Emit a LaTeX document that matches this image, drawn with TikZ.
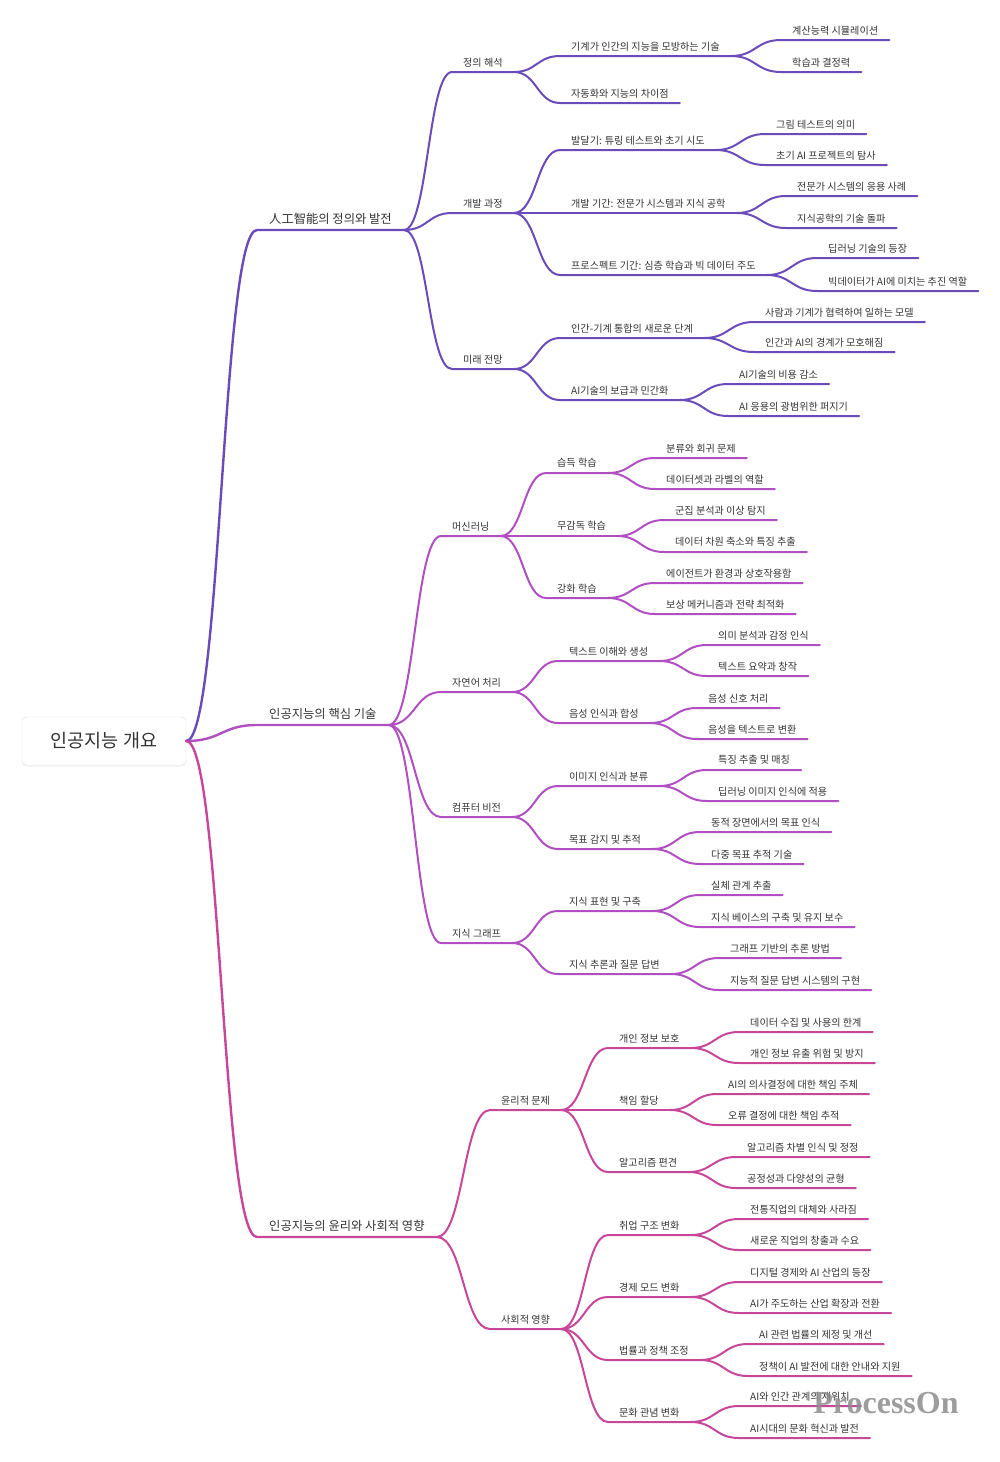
\documentclass[tikz,border=0pt]{standalone}
\usepackage{fontspec}
\setmainfont{Noto Sans CJK KR}
\newfontfamily\markfont{Liberation Serif}
\usetikzlibrary{calc,shadows}

\definecolor{ink}{HTML}{333333}
\definecolor{violetA}{HTML}{6A4BBA}
\definecolor{violetB}{HTML}{B04EC2}
\definecolor{violetC}{HTML}{C8469A}

\begin{document}
\begin{tikzpicture}[x=1pt,y=-1pt]
            \tikzset{rootbox/.style = {draw=black!12, fill=white, rounded corners=4pt, minimum width=164pt, minimum height=48pt, text=ink, font=\fontsize{18.5}{22}\selectfont, drop shadow={opacity=0.10, shadow xshift=0pt, shadow yshift=-1.5pt}}}
            \tikzset{topic/.style = {anchor=south west, inner xsep=11pt, inner ysep=5pt, text=ink, font=\fontsize{10.1}{12}\selectfont}}
            \tikzset{major/.style = {topic, inner xsep=12pt, font=\fontsize{12.3}{14}\selectfont}}
            \tikzset{stamp/.style = {text=black!45, text opacity=0.85, font=\markfont\bfseries\fontsize{32}{35}\selectfont}}
            \tikzset{link/.style = {to path={let \p1=(\tikztostart), \p2=(\tikztotarget) in .. controls ({(\x1+\x2)/2},\y1) and ({(\x1+\x2)/2},\y2) .. (\tikztotarget)}}}
            \tikzset{lineA/.style = {draw=violetA, line width=2pt, line cap=round}}
            \tikzset{lineB/.style = {draw=violetB, line width=2pt, line cap=round}}
            \tikzset{lineC/.style = {draw=violetC, line width=2pt, line cap=round}}
            \useasboundingbox (0,0) rectangle (1000,1462);
            % vertices
            \node[rootbox] (root) at (104,741) {인공지능 개요};
            \node[major] (A) at (257,230) {人工智能의 정의와 발전};
            \node[major] (B) at (257,725) {인공지능의 핵심 기술};
            \node[major] (C) at (257,1237) {인공지능의 윤리와 사회적 영향};
            % definition and development
            \node[topic] (A1) at (452,72) {정의 해석};
            \node[topic] (A11) at (560,56) {기계가 인간의 지능을 모방하는 기술};
            \node[topic] (A111) at (781,40) {계산능력 시뮬레이션};
            \node[topic] (A112) at (781,72) {학습과 결정력};
            \node[topic] (A12) at (560,103) {자동화와 지능의 차이점};
            \node[topic] (A2) at (452,213) {개발 과정};
            \node[topic] (A21) at (560,150) {발달기: 튜링 테스트와 초기 시도};
            \node[topic] (A211) at (765,134) {그림 테스트의 의미};
            \node[topic] (A212) at (765,165) {초기 AI 프로젝트의 탐사};
            \node[topic] (A22) at (560,213) {개발 기간: 전문가 시스템과 지식 공학};
            \node[topic] (A221) at (786,196) {전문가 시스템의 응용 사례};
            \node[topic] (A222) at (786,228) {지식공학의 기술 돌파};
            \node[topic] (A23) at (560,275) {프로스펙트 기간: 심층 학습과 빅 데이터 주도};
            \node[topic] (A231) at (817,258) {딥러닝 기술의 등장};
            \node[topic] (A232) at (817,291) {빅데이터가 AI에 미치는 추진 역할};
            \node[topic] (A3) at (452,369) {미래 전망};
            \node[topic] (A31) at (560,338) {인간-기계 통합의 새로운 단계};
            \node[topic] (A311) at (754,322) {사람과 기계가 협력하여 일하는 모델};
            \node[topic] (A312) at (754,352) {인간과 AI의 경계가 모호해짐};
            \node[topic] (A32) at (560,400) {AI기술의 보급과 민간화};
            \node[topic] (A321) at (728,384) {AI기술의 비용 감소};
            \node[topic] (A322) at (728,416) {AI 응용의 광범위한 퍼지기};
            % core technologies
            \node[topic] (B1) at (441,536) {머신러닝};
            \node[topic] (B11) at (546,473) {습득 학습};
            \node[topic] (B111) at (655,458) {분류와 회귀 문제};
            \node[topic] (B112) at (655,489) {데이터셋과 라벨의 역할};
            \node[topic] (B12) at (546,536) {무감독 학습};
            \node[topic] (B121) at (664,520) {군집 분석과 이상 탐지};
            \node[topic] (B122) at (664,552) {데이터 차원 축소와 특징 추출};
            \node[topic] (B13) at (546,598) {강화 학습};
            \node[topic] (B131) at (655,583) {에이전트가 환경과 상호작용함};
            \node[topic] (B132) at (655,614) {보상 메커니즘과 전략 최적화};
            \node[topic] (B2) at (441,692) {자연어 처리};
            \node[topic] (B21) at (558,661) {텍스트 이해와 생성};
            \node[topic] (B211) at (707,645) {의미 분석과 감정 인식};
            \node[topic] (B212) at (707,676) {텍스트 요약과 창작};
            \node[topic] (B22) at (558,723) {음성 인식과 합성};
            \node[topic] (B221) at (697,708) {음성 신호 처리};
            \node[topic] (B222) at (697,739) {음성을 텍스트로 변환};
            \node[topic] (B3) at (441,817) {컴퓨터 비전};
            \node[topic] (B31) at (558,786) {이미지 인식과 분류};
            \node[topic] (B311) at (707,770) {특징 추출 및 매칭};
            \node[topic] (B312) at (707,801) {딥러닝 이미지 인식에 적용};
            \node[topic] (B32) at (558,849) {목표 감지 및 추적};
            \node[topic] (B321) at (700,832) {동적 장면에서의 목표 인식};
            \node[topic] (B322) at (700,864) {다중 목표 추적 기술};
            \node[topic] (B4) at (441,943) {지식 그래프};
            \node[topic] (B41) at (558,911) {지식 표현 및 구축};
            \node[topic] (B411) at (700,895) {실체 관계 추출};
            \node[topic] (B412) at (700,927) {지식 베이스의 구축 및 유지 보수};
            \node[topic] (B42) at (558,974) {지식 추론과 질문 답변};
            \node[topic] (B421) at (719,958) {그래프 기반의 추론 방법};
            \node[topic] (B422) at (719,990) {지능적 질문 답변 시스템의 구현};
            % ethics and society
            \node[topic] (C1) at (490,1110) {윤리적 문제};
            \node[topic] (C11) at (608,1048) {개인 정보 보호};
            \node[topic] (C111) at (739,1032) {데이터 수집 및 사용의 한계};
            \node[topic] (C112) at (739,1063) {개인 정보 유출 위험 및 방지};
            \node[topic] (C12) at (608,1110) {책임 할당};
            \node[topic] (C121) at (717,1094) {AI의 의사결정에 대한 책임 주체};
            \node[topic] (C122) at (717,1125) {오류 결정에 대한 책임 추적};
            \node[topic] (C13) at (608,1172) {알고리즘 편견};
            \node[topic] (C131) at (736,1157) {알고리즘 차별 인식 및 정정};
            \node[topic] (C132) at (736,1188) {공정성과 다양성의 균형};
            \node[topic] (C2) at (490,1329) {사회적 영향};
            \node[topic] (C21) at (608,1235) {취업 구조 변화};
            \node[topic] (C211) at (739,1219) {전통직업의 대체와 사라짐};
            \node[topic] (C212) at (739,1250) {새로운 직업의 창출과 수요};
            \node[topic] (C22) at (608,1297) {경제 모드 변화};
            \node[topic] (C221) at (739,1282) {디지털 경제와 AI 산업의 등장};
            \node[topic] (C222) at (739,1313) {AI가 주도하는 산업 확장과 전환};
            \node[topic] (C23) at (608,1360) {법률과 정책 조정};
            \node[topic] (C231) at (748,1344) {AI 관련 법률의 제정 및 개선};
            \node[topic] (C232) at (748,1376) {정책이 AI 발전에 대한 안내와 지원};
            \node[topic] (C24) at (608,1422) {문화 관념 변화};
            \node[topic] (C241) at (739,1406) {AI와 인간 관계의 재위치};
            \node[topic] (C242) at (739,1438) {AI시대의 문화 혁신과 발전};
            %edges
            \draw[lineA, line width=2.4pt] (root.east) to[link] (A.south west) -- (A.south east);
            \draw[lineB, line width=2.4pt] (root.east) to[link] (B.south west) -- (B.south east);
            \draw[lineC, line width=2.4pt] (root.east) to[link] (C.south west) -- (C.south east);
            \draw[lineA] (A.south east) to[link] (A1.south west) -- (A1.south east);
            \draw[lineA] (A1.south east) to[link] (A11.south west) -- (A11.south east);
            \draw[lineA] (A11.south east) to[link] (A111.south west) -- (A111.south east);
            \draw[lineA] (A11.south east) to[link] (A112.south west) -- (A112.south east);
            \draw[lineA] (A1.south east) to[link] (A12.south west) -- (A12.south east);
            \draw[lineA] (A.south east) to[link] (A2.south west) -- (A2.south east);
            \draw[lineA] (A2.south east) to[link] (A21.south west) -- (A21.south east);
            \draw[lineA] (A21.south east) to[link] (A211.south west) -- (A211.south east);
            \draw[lineA] (A21.south east) to[link] (A212.south west) -- (A212.south east);
            \draw[lineA] (A2.south east) to[link] (A22.south west) -- (A22.south east);
            \draw[lineA] (A22.south east) to[link] (A221.south west) -- (A221.south east);
            \draw[lineA] (A22.south east) to[link] (A222.south west) -- (A222.south east);
            \draw[lineA] (A2.south east) to[link] (A23.south west) -- (A23.south east);
            \draw[lineA] (A23.south east) to[link] (A231.south west) -- (A231.south east);
            \draw[lineA] (A23.south east) to[link] (A232.south west) -- (A232.south east);
            \draw[lineA] (A.south east) to[link] (A3.south west) -- (A3.south east);
            \draw[lineA] (A3.south east) to[link] (A31.south west) -- (A31.south east);
            \draw[lineA] (A31.south east) to[link] (A311.south west) -- (A311.south east);
            \draw[lineA] (A31.south east) to[link] (A312.south west) -- (A312.south east);
            \draw[lineA] (A3.south east) to[link] (A32.south west) -- (A32.south east);
            \draw[lineA] (A32.south east) to[link] (A321.south west) -- (A321.south east);
            \draw[lineA] (A32.south east) to[link] (A322.south west) -- (A322.south east);
            \draw[lineB] (B.south east) to[link] (B1.south west) -- (B1.south east);
            \draw[lineB] (B1.south east) to[link] (B11.south west) -- (B11.south east);
            \draw[lineB] (B11.south east) to[link] (B111.south west) -- (B111.south east);
            \draw[lineB] (B11.south east) to[link] (B112.south west) -- (B112.south east);
            \draw[lineB] (B1.south east) to[link] (B12.south west) -- (B12.south east);
            \draw[lineB] (B12.south east) to[link] (B121.south west) -- (B121.south east);
            \draw[lineB] (B12.south east) to[link] (B122.south west) -- (B122.south east);
            \draw[lineB] (B1.south east) to[link] (B13.south west) -- (B13.south east);
            \draw[lineB] (B13.south east) to[link] (B131.south west) -- (B131.south east);
            \draw[lineB] (B13.south east) to[link] (B132.south west) -- (B132.south east);
            \draw[lineB] (B.south east) to[link] (B2.south west) -- (B2.south east);
            \draw[lineB] (B2.south east) to[link] (B21.south west) -- (B21.south east);
            \draw[lineB] (B21.south east) to[link] (B211.south west) -- (B211.south east);
            \draw[lineB] (B21.south east) to[link] (B212.south west) -- (B212.south east);
            \draw[lineB] (B2.south east) to[link] (B22.south west) -- (B22.south east);
            \draw[lineB] (B22.south east) to[link] (B221.south west) -- (B221.south east);
            \draw[lineB] (B22.south east) to[link] (B222.south west) -- (B222.south east);
            \draw[lineB] (B.south east) to[link] (B3.south west) -- (B3.south east);
            \draw[lineB] (B3.south east) to[link] (B31.south west) -- (B31.south east);
            \draw[lineB] (B31.south east) to[link] (B311.south west) -- (B311.south east);
            \draw[lineB] (B31.south east) to[link] (B312.south west) -- (B312.south east);
            \draw[lineB] (B3.south east) to[link] (B32.south west) -- (B32.south east);
            \draw[lineB] (B32.south east) to[link] (B321.south west) -- (B321.south east);
            \draw[lineB] (B32.south east) to[link] (B322.south west) -- (B322.south east);
            \draw[lineB] (B.south east) to[link] (B4.south west) -- (B4.south east);
            \draw[lineB] (B4.south east) to[link] (B41.south west) -- (B41.south east);
            \draw[lineB] (B41.south east) to[link] (B411.south west) -- (B411.south east);
            \draw[lineB] (B41.south east) to[link] (B412.south west) -- (B412.south east);
            \draw[lineB] (B4.south east) to[link] (B42.south west) -- (B42.south east);
            \draw[lineB] (B42.south east) to[link] (B421.south west) -- (B421.south east);
            \draw[lineB] (B42.south east) to[link] (B422.south west) -- (B422.south east);
            \draw[lineC] (C.south east) to[link] (C1.south west) -- (C1.south east);
            \draw[lineC] (C1.south east) to[link] (C11.south west) -- (C11.south east);
            \draw[lineC] (C11.south east) to[link] (C111.south west) -- (C111.south east);
            \draw[lineC] (C11.south east) to[link] (C112.south west) -- (C112.south east);
            \draw[lineC] (C1.south east) to[link] (C12.south west) -- (C12.south east);
            \draw[lineC] (C12.south east) to[link] (C121.south west) -- (C121.south east);
            \draw[lineC] (C12.south east) to[link] (C122.south west) -- (C122.south east);
            \draw[lineC] (C1.south east) to[link] (C13.south west) -- (C13.south east);
            \draw[lineC] (C13.south east) to[link] (C131.south west) -- (C131.south east);
            \draw[lineC] (C13.south east) to[link] (C132.south west) -- (C132.south east);
            \draw[lineC] (C.south east) to[link] (C2.south west) -- (C2.south east);
            \draw[lineC] (C2.south east) to[link] (C21.south west) -- (C21.south east);
            \draw[lineC] (C21.south east) to[link] (C211.south west) -- (C211.south east);
            \draw[lineC] (C21.south east) to[link] (C212.south west) -- (C212.south east);
            \draw[lineC] (C2.south east) to[link] (C22.south west) -- (C22.south east);
            \draw[lineC] (C22.south east) to[link] (C221.south west) -- (C221.south east);
            \draw[lineC] (C22.south east) to[link] (C222.south west) -- (C222.south east);
            \draw[lineC] (C2.south east) to[link] (C23.south west) -- (C23.south east);
            \draw[lineC] (C23.south east) to[link] (C231.south west) -- (C231.south east);
            \draw[lineC] (C23.south east) to[link] (C232.south west) -- (C232.south east);
            \draw[lineC] (C2.south east) to[link] (C24.south west) -- (C24.south east);
            \draw[lineC] (C24.south east) to[link] (C241.south west) -- (C241.south east);
            \draw[lineC] (C24.south east) to[link] (C242.south west) -- (C242.south east);
            % watermark
            \node[stamp] (wm) at (886,1403) {ProcessOn};
        \end{tikzpicture}
\end{document}
